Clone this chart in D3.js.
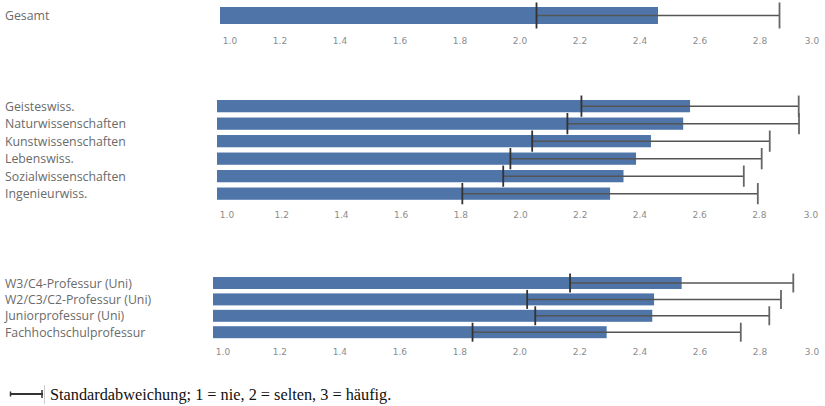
<!DOCTYPE html>
<html>
<head>
<meta charset="utf-8">
<script src="https://cdn.jsdelivr.net/npm/d3@7"></script>
<style>
  body { margin: 0; background: #fff; }
  svg { display: block; }
</style>
</head>
<body>
<div id="chart"></div>
<script>
// data: bar = mean, whisker = mean +/- sd
const gesamtLabels = ["Gesamt"];
const gesamtMean = [2.46];
const gesamtSd = [0.405];

const fachLabels = ["Geisteswiss.", "Naturwissenschaften", "Kunstwissenschaften",
  "Lebenswiss.", "Sozialwissenschaften", "Ingenieurwiss."];
const fachMean = [2.568, 2.545, 2.437, 2.387, 2.345, 2.300];
const fachSd = [0.364, 0.388, 0.398, 0.421, 0.403, 0.495];

const statusLabels = ["W3/C4-Professur (Uni)", "W2/C3/C2-Professur (Uni)",
  "Juniorprofessur (Uni)", "Fachhochschulprofessur"];
const statusMean = [2.539, 2.447, 2.441, 2.289];
const statusSd = [0.372, 0.423, 0.390, 0.447];

const tickValues = [1.0, 1.2, 1.4, 1.6, 1.8, 2.0, 2.2, 2.4, 2.6, 2.8, 3.0];

const legendText = "Standardabweichung; 1 = nie, 2 = selten, 3 = häufig.";

const W = 825, H = 406;
const barColor = "#4e74a8";
const errColor = "#555";

const svg = d3.select("#chart").append("svg")
  .attr("width", W).attr("height", H);

// one panel per group, each has its own pane
const panels = [
  { labels: gesamtLabels, mean: gesamtMean, sd: gesamtSd,
    lo: 1.0, xr: [220, 820], yr: [7, 24], padIn: 0, padOut: 0, capExtra: 7, tickY: 41 },
  { labels: fachLabels, mean: fachMean, sd: fachSd,
    lo: 0.983, xr: [217, 819], yr: [97.4, 202.4], padIn: 0.3, padOut: 0.15, capExtra: 7, tickY: 215 },
  { labels: statusLabels, mean: statusMean, sd: statusSd,
    lo: 0.977, xr: [213, 820], yr: [274.8, 340.4], padIn: 0.27, padOut: 0.135, capExtra: 5, tickY: 352 }
];

panels.forEach(p => {
  const x = d3.scaleLinear().domain([p.lo, 3.0]).range(p.xr);
  const y = d3.scaleBand().domain(p.labels).range(p.yr)
    .paddingInner(p.padIn).paddingOuter(p.padOut);
  const rows = p.labels.map((l, i) => ({ label: l, mean: p.mean[i], sd: p.sd[i] }));
  const g = svg.append("g");

  // row labels
  g.selectAll("text.lab")
    .data(rows)
    .join("text")
    .attr("class", "lab")
    .attr("x", 5)
    .attr("y", d => y(d.label) + y.bandwidth() / 2)
    .attr("dominant-baseline", "central")
    .style("font-family", "'Open Sans', sans-serif")
    .style("font-size", "12.3px")
    .style("fill", "#6a6a6a")
    .text(d => d.label);

  // bars
  g.selectAll("rect")
    .data(rows)
    .join("rect")
    .attr("x", x(p.lo))
    .attr("y", d => y(d.label))
    .attr("width", d => x(d.mean) - x(p.lo))
    .attr("height", y.bandwidth())
    .style("fill", barColor);

  // error bars
  const eb = g.selectAll("g.err")
    .data(rows)
    .join("g")
    .attr("class", "err");
  const cy = d => y(d.label) + y.bandwidth() / 2;
  const half = y.bandwidth() / 2 + p.capExtra / 2 + 1;
  eb.append("line")
    .attr("x1", d => x(d.mean - d.sd)).attr("x2", d => x(d.mean + d.sd))
    .attr("y1", cy).attr("y2", cy)
    .style("stroke", errColor).style("stroke-width", 1.5);
  eb.append("line")
    .attr("x1", d => x(d.mean - d.sd)).attr("x2", d => x(d.mean - d.sd))
    .attr("y1", d => cy(d) - half).attr("y2", d => cy(d) + half)
    .style("stroke", "#333").style("stroke-width", 1.8);
  eb.append("line")
    .attr("x1", d => x(d.mean + d.sd)).attr("x2", d => x(d.mean + d.sd))
    .attr("y1", d => cy(d) - half).attr("y2", d => cy(d) + half)
    .style("stroke", "#666").style("stroke-width", 1.8);

  // axis tick labels (edge labels pushed inside the pane)
  g.selectAll("text.tick")
    .data(tickValues)
    .join("text")
    .attr("class", "tick")
    .attr("x", d => Math.min(Math.max(x(d), p.xr[0] + 10), p.xr[1] - 8))
    .attr("y", p.tickY)
    .attr("text-anchor", "middle")
    .attr("dominant-baseline", "central")
    .style("font-family", "'DejaVu Sans', sans-serif")
    .style("font-size", "9px")
    .style("fill", "#8c8c8c")
    .text(d => d3.format(".1f")(d));
});

// legend
const lg = svg.append("g");
lg.append("line").attr("x1", 10).attr("x2", 43).attr("y1", 394).attr("y2", 394)
  .style("stroke", "#333").style("stroke-width", 2);
lg.append("line").attr("x1", 10.5).attr("x2", 10.5).attr("y1", 391.5).attr("y2", 396.5)
  .style("stroke", "#333").style("stroke-width", 1.5);
lg.append("line").attr("x1", 42).attr("x2", 42).attr("y1", 390).attr("y2", 398)
  .style("stroke", "#333").style("stroke-width", 1.5);
lg.append("line").attr("x1", 44.5).attr("x2", 44.5).attr("y1", 385).attr("y2", 404)
  .style("stroke", "#ccc").style("stroke-width", 1);
lg.append("text")
  .attr("x", 50).attr("y", 400)
  .style("font-family", "'Liberation Serif', 'Times New Roman', serif")
  .style("font-size", "16.3px")
  .style("fill", "#111")
  .text(legendText);
</script>
</body>
</html>
